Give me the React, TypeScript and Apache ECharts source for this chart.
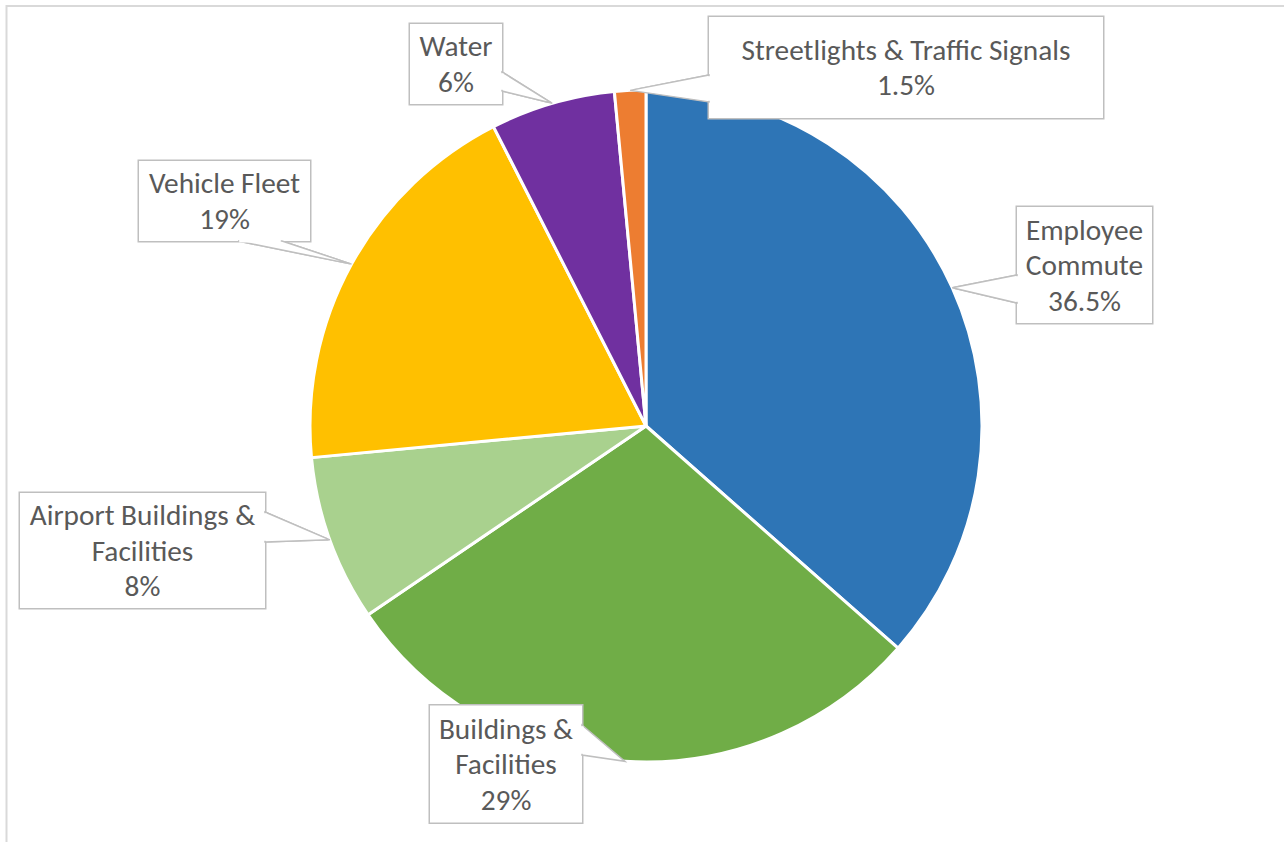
import React, { useEffect, useRef } from "react";
import * as echarts from "echarts";

const categories = [
  "Employee Commute",
  "Buildings & Facilities",
  "Airport Buildings & Facilities",
  "Vehicle Fleet",
  "Water",
  "Streetlights & Traffic Signals",
];
const values = [36.5, 29, 8, 19, 6, 1.5];
const colors = ["#2E75B6", "#70AD47", "#A9D18E", "#FFC000", "#7030A0", "#ED7D31"];

// how each label's name wraps inside its box
const wrapped: Record<string, string> = {
  "Employee Commute": "Employee\nCommute",
  "Buildings & Facilities": "Buildings &\nFacilities",
  "Airport Buildings & Facilities": "Airport Buildings &\nFacilities",
};

const LINE_H = 35.5;

// callout box layout: center x, center y, box width, box height, wedge base points on the box edge
const boxLayout = [
  { x: 1084.5, y: 265, w: 135, h: 116, base: [[1017, 275], [1017, 303]] },
  { x: 506, y: 764, w: 152, h: 117, base: [[582, 725], [582, 755]] },
  { x: 142.5, y: 550.5, w: 245, h: 115, base: [[265, 512], [265, 542]] },
  { x: 224.5, y: 201, w: 171, h: 80, base: [[238, 241], [282, 241]] },
  { x: 456, y: 64, w: 92, h: 80, base: [[502, 72], [502, 91]] },
  { x: 906, y: 67.5, w: 394, h: 101, base: [[709, 75], [709, 102]] },
];

export default function App() {
  const ref = useRef<HTMLDivElement>(null);
  useEffect(() => {
    if (!ref.current) return;
    const chart = echarts.init(ref.current, undefined, { renderer: "svg" });
    const font = "Carlito, Calibri, Lato, 'Noto Sans', sans-serif";

    const labelText = (i: number) =>
      `${wrapped[categories[i]] ?? categories[i]}\n${values[i]}%`;
    const lineCount = (i: number) => labelText(i).split("\n").length;

    // slice edge anchor points, as computed by the pie's own label layout
    const tips: number[][] = [];

    const frame = {
      id: "frame",
      type: "rect",
      z: 100,
      shape: { x: 6.5, y: 6, width: 1400, height: 900 },
      style: { fill: "none", stroke: "#D9D9D9", lineWidth: 2 },
      silent: true,
    };

    chart.setOption({
      animation: false,
      backgroundColor: "#FFFFFF",
      graphic: [frame],
      series: [
        {
          type: "pie",
          center: [646, 426],
          radius: [0, 336],
          startAngle: 90,
          clockwise: true,
          avoidLabelOverlap: false,
          itemStyle: { borderColor: "#FFFFFF", borderWidth: 3 },
          data: categories.map((name, i) => {
            const b = boxLayout[i];
            const pv = (b.h - lineCount(i) * LINE_H) / 2;
            return {
              name,
              value: values[i],
              itemStyle: { color: colors[i] },
              label: { width: b.w, padding: [pv, 0, pv, 0] },
            };
          }),
          label: {
            show: true,
            position: "outside",
            formatter: (p: any) => labelText(p.dataIndex),
            fontFamily: font,
            fontSize: 29.3,
            lineHeight: LINE_H,
            color: "#595959",
            align: "center",
            backgroundColor: "#FFFFFF",
            borderColor: "#BFBFBF",
            borderWidth: 1.5,
            overflow: "none",
          },
          labelLine: {
            show: true,
            length: 20,
            length2: 20,
            lineStyle: { color: "#BFBFBF", width: 1.5 },
          },
          labelLayout: (params: any) => {
            const b = boxLayout[params.dataIndex];
            const pts = params.labelLinePoints;
            const out: any = { x: b.x, y: b.y, align: "center", verticalAlign: "middle" };
            if (pts && pts[0]) {
              tips[params.dataIndex] = [pts[0][0], pts[0][1]];
              out.labelLinePoints = [b.base[0], [pts[0][0], pts[0][1]], b.base[1]];
            }
            return out;
          },
          emphasis: { disabled: true },
        },
      ],
    });

    // white-filled callout wedges drawn over the pie, opening into their label boxes
    const wedges: any[] = [];
    boxLayout.forEach((b, i) => {
      const tip = tips[i];
      if (!tip) return;
      const [p1, p2] = b.base;
      wedges.push({
        id: "wedge" + i,
        type: "polygon",
        z: 100,
        silent: true,
        shape: { points: [p1, tip, p2] },
        style: { fill: "#FFFFFF", stroke: "#BFBFBF", lineWidth: 1.5, lineJoin: "miter" },
      });
      const vertical = p1[0] === p2[0];
      wedges.push({
        id: "cover" + i,
        type: "line",
        z: 101,
        silent: true,
        shape: vertical
          ? { x1: p1[0], y1: p1[1] + 1.2, x2: p2[0], y2: p2[1] - 1.2 }
          : { x1: p1[0] + 1.2, y1: p1[1], x2: p2[0] - 1.2, y2: p2[1] },
        style: { stroke: "#FFFFFF", lineWidth: 3 },
      });
    });
    if (wedges.length) {
      chart.setOption({ graphic: [frame, ...wedges] });
    }
    return () => chart.dispose();
  }, []);
  return (
    <div
      ref={ref}
      style={{ position: "absolute", left: 0, top: 0, width: 1284, height: 842 }}
    />
  );
}
